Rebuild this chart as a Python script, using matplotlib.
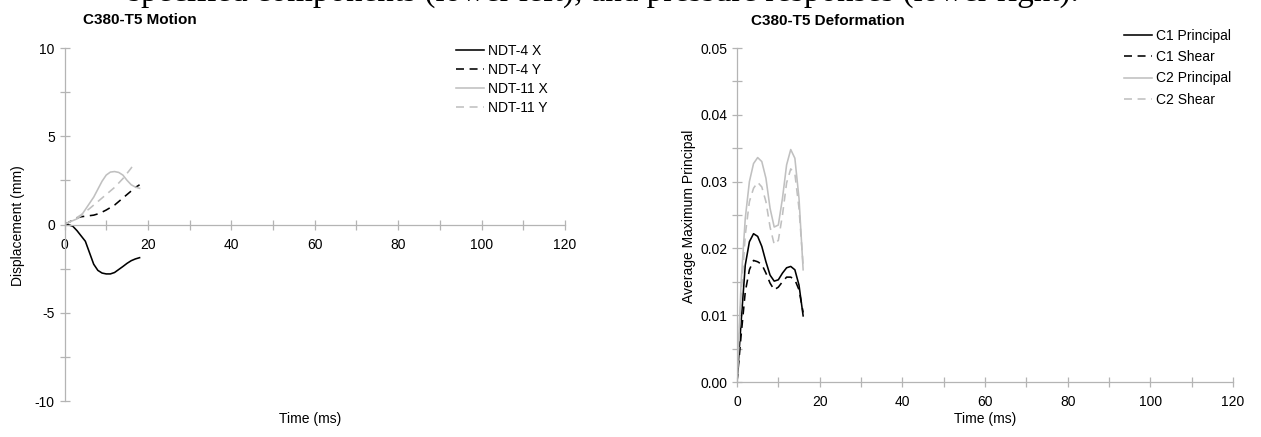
import matplotlib
matplotlib.use("Agg")
import matplotlib.pyplot as plt
from matplotlib.ticker import MultipleLocator, FormatStrFormatter

plt.rcParams['font.family'] = ['Liberation Sans', 'DejaVu Sans']
plt.rcParams['axes.unicode_minus'] = False

# ---- data: motion (left) ----
t_motion = [0, 1, 2, 3, 4, 5, 6, 7, 8, 9, 10, 11, 12, 13, 14, 15, 16, 17, 18]
ndt4_x = [0, -0.02, -0.1, -0.35, -0.65, -0.95, -1.6, -2.25, -2.6, -2.75, -2.8,
          -2.8, -2.72, -2.55, -2.38, -2.2, -2.05, -1.95, -1.88]
ndt4_y = [0, 0.12, 0.25, 0.37, 0.44, 0.47, 0.5, 0.53, 0.6, 0.7, 0.82, 0.96,
          1.1, 1.3, 1.5, 1.7, 1.9, 2.1, 2.25]
ndt11_x = [0, 0.12, 0.22, 0.32, 0.5, 0.85, 1.2, 1.55, 2.0, 2.45, 2.8, 2.97,
           3.0, 2.95, 2.8, 2.5, 2.25, 2.12, 2.05]
t_ndt11_y = [0, 1, 2, 3, 4, 5, 6, 7, 8, 9, 10, 11, 12, 13, 14, 15, 16, 16.5]
ndt11_y = [0, 0.12, 0.25, 0.4, 0.55, 0.72, 0.9, 1.1, 1.3, 1.5, 1.7, 1.9,
           2.1, 2.35, 2.6, 2.9, 3.2, 3.4]
motion_labels = ['NDT-4 X', 'NDT-4 Y', 'NDT-11 X', 'NDT-11 Y']

# ---- data: deformation (right) ----
t_def = [0, 1, 2, 3, 4, 5, 6, 7, 8, 9, 10, 11, 12, 13, 14, 15, 16]
c1_principal = [0, 0.009, 0.0175, 0.021, 0.0222, 0.0218, 0.0203, 0.018, 0.016,
                0.0151, 0.0153, 0.0163, 0.0171, 0.0173, 0.0168, 0.0145, 0.0099]
c1_shear = [0, 0.007, 0.0135, 0.0168, 0.0182, 0.018, 0.0176, 0.0163, 0.0148,
            0.0138, 0.0142, 0.015, 0.0157, 0.0157, 0.0153, 0.0138, 0.0104]
c2_principal = [0, 0.015, 0.0245, 0.03, 0.0327, 0.0336, 0.033, 0.0305, 0.026,
                0.0232, 0.0235, 0.0275, 0.0325, 0.0348, 0.0335, 0.0275, 0.0168]
c2_shear = [0, 0.013, 0.022, 0.027, 0.029, 0.0299, 0.0292, 0.027, 0.0232,
            0.0206, 0.0212, 0.025, 0.0298, 0.0319, 0.0312, 0.026, 0.0175]
def_labels = ['C1 Principal', 'C1 Shear', 'C2 Principal', 'C2 Shear']

header_text = 'specified components (lower left), and pressure responses (lower right).'

BLACK = '#000000'
GRAY = '#c0c0c0'
AXC = '#b4b4b4'
LW = 1.15
DASH = (0, (5, 3.5))
FS = 10
TFS = 11

W, H = 1261, 437
fig = plt.figure(figsize=(W / 100, H / 100), dpi=100)

# partially visible document line at the top (cut by the page edge)
hdr = fig.text(128 / W, 1 - 0.5 / H, header_text, family='Liberation Serif',
               fontsize=16, ha='left', va='baseline')
fig.canvas.draw()
bb = hdr.get_window_extent()
hdr.set_fontsize(16 * (1078 - 128) / bb.width)


def style_axes(ax):
    for s in ['top', 'right']:
        ax.spines[s].set_visible(False)
    for s in ['left', 'bottom']:
        ax.spines[s].set_color(AXC)
        ax.spines[s].set_linewidth(0.9)
    ax.tick_params(which='both', direction='inout', color=AXC, width=0.9,
                   labelsize=FS, labelcolor='black', length=7)


# ---- left axes ----
ax1 = fig.add_axes([64.5 / W, 1 - 401 / H, 500.5 / W, 353 / H])
ax1.plot(t_motion, ndt4_x, color=BLACK, lw=LW, label=motion_labels[0])
ax1.plot(t_motion, ndt4_y, color=BLACK, lw=LW, ls=DASH, label=motion_labels[1])
ax1.plot(t_motion, ndt11_x, color=GRAY, lw=LW, label=motion_labels[2])
ax1.plot(t_ndt11_y, ndt11_y, color=GRAY, lw=LW, ls=DASH, label=motion_labels[3])
ax1.set_xlim(0, 120)
ax1.set_ylim(-10, 10)
ax1.spines['bottom'].set_position(('data', 0))
ax1.xaxis.set_major_locator(MultipleLocator(20))
ax1.xaxis.set_minor_locator(MultipleLocator(10))
ax1.yaxis.set_major_locator(MultipleLocator(5))
ax1.yaxis.set_minor_locator(MultipleLocator(2.5))
style_axes(ax1)
ax1.tick_params(axis='x', pad=6)
ax1.legend(loc='upper left', bbox_to_anchor=(456 / W, 1 - 44 / H),
           bbox_transform=fig.transFigure, frameon=False, fontsize=FS,
           handlelength=2.0, handletextpad=0.3, labelspacing=0.36,
           borderpad=0, borderaxespad=0)

# ---- right axes ----
ax2 = fig.add_axes([737 / W, 1 - 382 / H, 496 / W, 334 / H])
ax2.plot(t_def, c1_principal, color=BLACK, lw=LW, label=def_labels[0])
ax2.plot(t_def, c1_shear, color=BLACK, lw=LW, ls=DASH, label=def_labels[1])
ax2.plot(t_def, c2_principal, color=GRAY, lw=LW, label=def_labels[2])
ax2.plot(t_def, c2_shear, color=GRAY, lw=LW, ls=DASH, label=def_labels[3])
ax2.set_xlim(0, 120)
ax2.set_ylim(0, 0.05)
ax2.xaxis.set_major_locator(MultipleLocator(20))
ax2.xaxis.set_minor_locator(MultipleLocator(10))
ax2.yaxis.set_major_locator(MultipleLocator(0.01))
ax2.yaxis.set_minor_locator(MultipleLocator(0.005))
ax2.yaxis.set_major_formatter(FormatStrFormatter('%.2f'))
style_axes(ax2)
ax2.tick_params(axis='x', pad=6)
ax2.legend(loc='upper left', bbox_to_anchor=(1124 / W, 1 - 29 / H),
           bbox_transform=fig.transFigure, frameon=False, fontsize=FS,
           handlelength=2.0, handletextpad=0.3, labelspacing=0.52,
           borderpad=0, borderaxespad=0)

# ---- titles and axis labels ----
fig.text(83 / W, 1 - 20 / H, 'C380-T5 Motion', fontsize=TFS, fontweight='bold',
         ha='left', va='center')
fig.text(751 / W, 1 - 21 / H, 'C380-T5 Deformation', fontsize=TFS, fontweight='bold',
         ha='left', va='center')
fig.text(310 / W, 1 - 419 / H, 'Time (ms)', fontsize=FS, ha='center', va='center')
fig.text(985 / W, 1 - 419 / H, 'Time (ms)', fontsize=FS, ha='center', va='center')
fig.text(18 / W, 1 - 226 / H, 'Displacement (mm)', fontsize=FS, rotation=90,
         ha='center', va='center')
fig.text(689 / W, 1 - 216 / H, 'Average Maximum Principal', fontsize=FS, rotation=90,
         ha='center', va='center')

fig.savefig('out.png', dpi=100)
